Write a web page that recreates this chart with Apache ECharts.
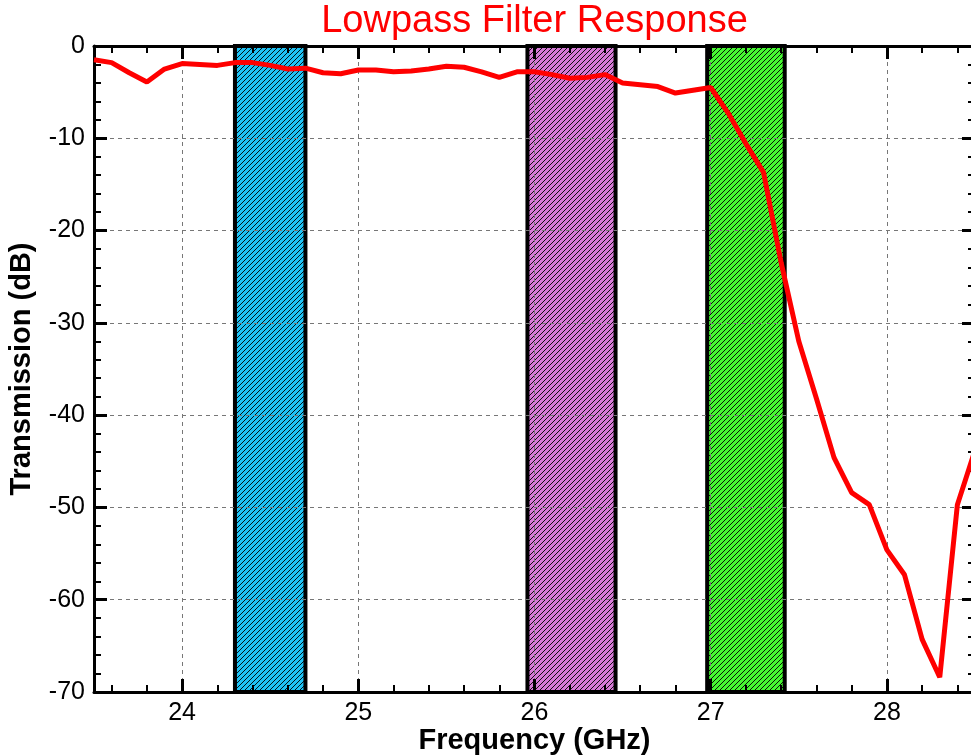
<!DOCTYPE html>
<html>
<head>
<meta charset="utf-8">
<script src="https://cdn.jsdelivr.net/npm/echarts@6/dist/echarts.min.js"></script>
<style>
html, body { margin: 0; padding: 0; background: #ffffff; }
#chart { width: 971px; height: 756px; }
</style>
</head>
<body>
<div id="chart"></div>
<script>
// ---- data ----
const freqGHz = [
  23.5, 23.6, 23.7, 23.8, 23.9, 24.0, 24.1, 24.2, 24.3, 24.4,
  24.5, 24.6, 24.7, 24.8, 24.9, 25.0, 25.1, 25.2, 25.3, 25.4,
  25.5, 25.6, 25.7, 25.8, 25.9, 26.0, 26.1, 26.2, 26.3, 26.4,
  26.5, 26.6, 26.7, 26.8, 26.9, 27.0, 27.1, 27.2, 27.3, 27.4,
  27.5, 27.6, 27.7, 27.8, 27.9, 28.0, 28.1, 28.2, 28.3, 28.4,
  28.5
];
const transmissionDb = [
  -1.5, -1.8, -2.9, -3.9, -2.5, -1.9, -2.0, -2.1, -1.8, -1.8,
  -2.1, -2.5, -2.4, -2.9, -3.0, -2.6, -2.6, -2.8, -2.7, -2.5,
  -2.2, -2.3, -2.8, -3.4, -2.8, -2.8, -3.1, -3.5, -3.4, -3.1,
  -4.0, -4.2, -4.4, -5.1, -4.8, -4.5, -7.3, -10.6, -13.7, -23.5,
  -32.0, -38.2, -44.6, -48.4, -49.7, -54.6, -57.3, -64.3, -68.4, -49.7,
  -43.8
];
const bandStartGHz = [24.3, 25.96, 26.98];
const bandEndGHz   = [24.7, 26.46, 27.42];
const xMin = 23.5, xMax = 28.5;
const yMin = -70, yMax = 0;

// ---- styles ----
const bandFills = ['#1fc2f4', '#d67ad6', '#46f832'];
const FONT = 'Liberation Sans';

function hatchPattern(color) {
  const n = 5;
  const c = document.createElement('canvas');
  c.width = n; c.height = n;
  const g = c.getContext('2d');
  g.fillStyle = color;
  g.fillRect(0, 0, n, n);
  g.fillStyle = 'rgba(0,0,0,0.9)';
  for (let i = 0; i < n; i++) g.fillRect(i, n - 1 - i, 1, 1);
  return c;
}
const patterns = bandFills.map(hatchPattern);

const lineData = freqGHz.map((f, i) => [f, transmissionDb[i]]);
const bandData = bandStartGHz.map((s, i) => [s, bandEndGHz[i], yMax, yMin]);

const chart = echarts.init(document.getElementById('chart'), null, { renderer: 'canvas' });

const axisLineStyle = { color: '#000', width: 3 };
const tickCfg = { show: true, inside: true, length: 13, lineStyle: { color: '#000', width: 3 } };
const minorCfg = { show: true, splitNumber: 5, length: 7, lineStyle: { color: '#000', width: 2 } };
const gridLine = { show: true, lineStyle: { color: '#777', type: [4, 4], width: 1 } };

chart.setOption({
  animation: false,
  backgroundColor: '#ffffff',
  title: {
    text: 'Lowpass Filter Response',
    left: 534.5,
    top: 3,
    padding: 0,
    textAlign: 'center',
    textStyle: { color: '#ff0000', fontSize: 38, fontWeight: 'normal', fontFamily: FONT }
  },
  grid: { left: 94, right: -4, top: 46, bottom: 64, containLabel: false, outerBoundsMode: 'none' },
  xAxis: [
    {
      type: 'value', min: xMin, max: xMax, splitNumber: 5, position: 'bottom', z: 3,
      axisLine: { show: true, onZero: false, lineStyle: axisLineStyle },
      axisTick: tickCfg,
      minorTick: minorCfg,
      axisLabel: { show: true, margin: 9, color: '#000', fontSize: 25, fontFamily: FONT, showMinLabel: false, showMaxLabel: false },
      splitLine: gridLine,
      name: 'Frequency (GHz)', nameLocation: 'middle', nameGap: 34, nameMoveOverlap: false,
      nameTextStyle: { fontSize: 29, fontWeight: 'bold', color: '#000', fontFamily: FONT }
    },
    {
      type: 'value', min: xMin, max: xMax, splitNumber: 5, position: 'top', z: 3,
      axisLine: { show: true, onZero: false, lineStyle: axisLineStyle },
      axisTick: tickCfg,
      minorTick: minorCfg,
      axisLabel: { show: false },
      splitLine: { show: false }
    }
  ],
  yAxis: [
    {
      type: 'value', min: yMin, max: yMax, interval: 10, position: 'left', z: 3,
      axisLine: { show: true, onZero: false, lineStyle: axisLineStyle },
      axisTick: tickCfg,
      minorTick: minorCfg,
      axisLabel: { show: true, margin: 9, color: '#000', fontSize: 25, fontFamily: FONT },
      splitLine: gridLine,
      name: 'Transmission (dB)', nameLocation: 'middle', nameGap: 58,
      nameTextStyle: { fontSize: 29, fontWeight: 'bold', color: '#000', fontFamily: FONT }
    },
    {
      type: 'value', min: yMin, max: yMax, interval: 10, position: 'right', z: 3,
      axisLine: { show: true, onZero: false, lineStyle: axisLineStyle },
      axisTick: tickCfg,
      minorTick: minorCfg,
      axisLabel: { show: false },
      splitLine: { show: false }
    }
  ],
  series: [
    {
      type: 'custom',
      name: 'bands',
      coordinateSystem: 'cartesian2d',
      xAxisIndex: 0, yAxisIndex: 0,
      z: 1,
      silent: true,
      encode: { x: [0, 1], y: [2, 3] },
      data: bandData,
      renderItem: function (params, api) {
        const p0 = api.coord([api.value(0), api.value(2)]);
        const p1 = api.coord([api.value(1), api.value(3)]);
        return {
          type: 'rect',
          shape: { x: p0[0], y: p0[1], width: p1[0] - p0[0], height: p1[1] - p0[1] },
          style: {
            fill: { image: patterns[params.dataIndex], repeat: 'repeat' },
            stroke: '#000', lineWidth: 4
          }
        };
      }
    },
    {
      type: 'line',
      name: 'Transmission',
      xAxisIndex: 0, yAxisIndex: 0,
      z: 5,
      data: lineData,
      showSymbol: false,
      symbol: 'none',
      lineStyle: { color: '#ff0000', width: 5 },
      itemStyle: { color: '#ff0000' }
    }
  ]
});
</script>
</body>
</html>
